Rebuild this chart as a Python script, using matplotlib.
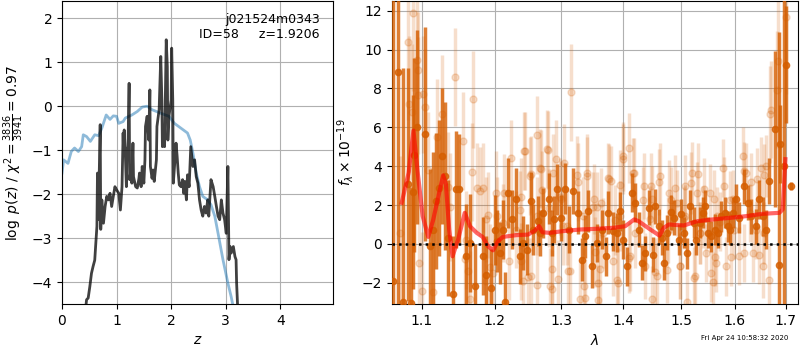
import matplotlib
matplotlib.use("Agg")
import matplotlib.pyplot as plt
from matplotlib.ticker import NullLocator

# left panel: log p(z) and prior
z_grid = [0.40, 0.45, 0.48, 0.51, 0.54, 0.57, 0.60, 0.62, 0.64, 0.65,
          0.67, 0.68, 0.70, 0.71, 0.73, 0.76, 0.79, 0.82, 0.85, 0.88,
          0.91, 0.94, 0.97, 1.00, 1.04, 1.07, 1.10, 1.12, 1.13, 1.14,
          1.16, 1.18, 1.19, 1.21, 1.23, 1.24, 1.27, 1.28, 1.30, 1.31,
          1.35, 1.38, 1.41, 1.42, 1.45, 1.47, 1.50, 1.52, 1.53, 1.56,
          1.59, 1.61, 1.62, 1.65, 1.67, 1.69, 1.73, 1.74, 1.78, 1.81,
          1.83, 1.84, 1.86, 1.88, 1.91, 1.93, 1.94, 1.96, 2.00, 2.01,
          2.03, 2.04, 2.07, 2.09, 2.11, 2.13, 2.15, 2.18, 2.21, 2.23,
          2.25, 2.28, 2.30, 2.33, 2.36, 2.40, 2.43, 2.46, 2.49, 2.52,
          2.55, 2.58, 2.61, 2.64, 2.67, 2.69, 2.73, 2.77, 2.80, 2.83,
          2.86, 2.89, 2.92, 2.95, 2.98, 3.01, 3.04, 3.06, 3.08, 3.10,
          3.14, 3.17, 3.19, 3.20, 3.22]
log_pz = [-5.0, -4.4, -4.36, -4.1, -3.8, -3.64, -3.5, -3.11, -2.73, -1.52,
          -2.58, -1.67, -0.42, -2.8, -2.13, -2.66, -2.28, -2.05, -2.13, -1.98,
          -2.28, -2.05, -1.83, -1.9, -1.98, -2.36, -1.83, -0.61, -1.07, -0.54,
          -1.07, -1.83, -0.99, -0.92, 0.52, -1.67, -1.37, -1.75, -0.84, -1.6,
          -1.83, -1.86, -1.64, -1.52, -1.83, -1.37, -1.75, -1.22, -0.46, -0.23,
          -0.77, 0.37, -1.37, -1.64, -1.45, -1.71, -1.22, -0.46, -0.08, 1.13,
          0.14, -0.92, -0.77, -0.92, 1.51, 0.9, -0.77, -0.23, 0.14, 1.32,
          0.14, -1.75, -1.22, -0.84, -1.14, -1.52, -1.79, -1.83, -1.67, -1.98,
          -1.71, -2.13, -1.56, -1.83, -0.92, -1.37, -1.22, -1.6, -1.75, -2.13,
          -2.36, -2.5, -2.28, -2.43, -2.13, -2.5, -1.67, -1.83, -2.05, -2.28,
          -2.5, -2.58, -2.13, -2.43, -2.58, -2.89, -1.37, -3.49, -3.19, -3.34,
          -3.19, -3.42, -3.49, -4.02, -4.6]

z_prior = [0.0, 0.03, 0.11, 0.17, 0.23, 0.30, 0.36, 0.39, 0.45, 0.52,
           0.60, 0.67, 0.73, 0.81, 0.88, 0.94, 1.00, 1.04, 1.12, 1.16,
           1.28, 1.38, 1.47, 1.56, 1.65, 1.81, 1.96, 2.06, 2.18, 2.30,
           2.35, 2.40, 2.46, 2.52, 2.58, 2.67, 2.73, 2.80, 2.86, 2.95,
           3.04, 3.10, 3.16]
log_prior = [-1.52, -1.22, -1.3, -1.03, -0.95, -1.03, -0.92, -0.65, -0.69, -0.8,
             -0.65, -0.67, -0.5, -0.2, -0.3, -0.22, -0.23, -0.39, -0.35, -0.27,
             -0.2, -0.12, -0.02, 0.0, -0.08, -0.16, -0.23, -0.39, -0.5, -0.61,
             -0.77, -1.07, -1.52, -1.83, -2.05, -2.13, -2.24, -2.5, -2.89, -3.49,
             -4.02, -4.33, -4.7]

# right panel: binned spectrum (dark points)
wave_bin = [1.0625, 1.0692, 1.0748, 1.0812, 1.0854, 1.0883, 1.0900, 1.0938, 1.1040, 1.1106,
            1.1150, 1.1186, 1.1225, 1.1270, 1.1306, 1.1350, 1.1418, 1.1463, 1.1499, 1.1600,
            1.1651, 1.1721, 1.1836, 1.1883, 1.1953, 1.2001, 1.2040, 1.2081, 1.2118, 1.2152,
            1.2190, 1.2253, 1.2311, 1.2368, 1.2417, 1.2467, 1.2531, 1.2566, 1.2641, 1.2667,
            1.2717, 1.2804, 1.2846, 1.2886, 1.2923, 1.2986, 1.3053, 1.3121, 1.3184, 1.3264,
            1.3318, 1.3371, 1.3425, 1.3480, 1.3561, 1.3643, 1.3709, 1.3752, 1.3835, 1.3891,
            1.3938, 1.4000, 1.4057, 1.4143, 1.4200, 1.4257, 1.4316, 1.4373, 1.4431, 1.4507,
            1.4548, 1.4606, 1.4666, 1.4694, 1.4755, 1.4826, 1.4872, 1.4962, 1.4992, 1.5052,
            1.5113, 1.5161, 1.5234, 1.5275, 1.5337, 1.5398, 1.5430, 1.5491, 1.5554, 1.5615,
            1.5677, 1.5740, 1.5803, 1.5866, 1.5898, 1.5961, 1.6026, 1.6088, 1.6185, 1.6250,
            1.6316, 1.6414, 1.6477, 1.6543, 1.6610, 1.6676, 1.6796, 1.6862, 1.6890, 1.6960,
            1.7012, 1.7114]
flux_bin = [-1.9, 8.84, -2.97, 3.07, -3.05, 2.67, 4.57, 6.03, 5.66, -0.12,
            0.74, 2.2, 2.86, 4.53, 3.5, 0.31, -2.6, 2.81, 2.84, -0.64,
            0.05, -2.19, -0.64, -1.59, -2.28, 0.74, 0.14, -0.47, 0.74, -2.97,
            2.64, 1.26, 2.29, -0.64, 0.05, -0.29, 2.2, 0.74, 1.17, 0.57,
            1.6, 2.33, 0.57, 1.26, 2.81, 1.34, 2.84, 0.74, 2.72, 1.6,
            -0.81, 0.4, 1.69, -1.16, 0.05, 0.74, -0.64, 1.6, 0.65, 0.57,
            1.69, 0.22, -1.16, 2.64, 2.12, 0.74, -0.98, -0.47, 1.86, -0.55,
            1.95, 0.91, 0.31, -0.98, 0.57, 1.64, 1.34, 0.22, 1.52, 0.57,
            -0.47, 1.95, 1.09, 0.22, 1.09, 1.6, 1.95, 0.57, 0.4, 0.74,
            0.57, 1.43, 1.6, 0.91, 0.74, 1.6, 2.29, 1.34, 2.98, 2.12,
            1.43, 0.91, 2.29, 1.43, 0.74, 3.24, 5.91, -1.07, 5.14, 4.0,
            9.22, 2.98]
err_bin = [20, 15, 12, 6, 6, 5, 5, 5, 5.5, 4,
           4, 3.5, 3.5, 3.5, 3.8, 3, 3, 3, 2.8, 2.7,
           2.5, 2.2, 2.0, 2.0, 2.0, 1.8, 1.6, 1.6, 1.5, 1.5,
           1.8, 1.5, 1.6, 1.4, 1.4, 1.3, 1.5, 1.3, 1.3, 1.2,
           1.3, 1.3, 1.2, 1.2, 1.3, 1.2, 1.3, 1.2, 1.2, 1.1,
           1.1, 1.1, 1.1, 1.1, 1.0, 1.0, 1.0, 1.1, 1.0, 1.0,
           1.0, 1.0, 1.0, 1.0, 1.0, 0.9, 0.9, 0.9, 0.9, 0.9,
           0.9, 0.9, 0.9, 0.9, 0.9, 0.9, 0.9, 0.8, 0.8, 0.8,
           0.8, 0.8, 0.8, 0.8, 0.8, 0.8, 0.8, 0.8, 0.8, 0.8,
           0.8, 0.8, 0.8, 0.8, 0.8, 0.8, 0.8, 0.8, 0.9, 0.9,
           0.9, 0.9, 1.0, 1.0, 1.0, 1.2, 4.0, 12, 2.0, 15,
           3.0, 0.2]

# right panel: unbinned spectrum (light points)
wave_raw = [1.0714, 1.0817, 1.0830, 1.0865, 1.0888, 1.0928, 1.0944, 1.0953, 1.0960, 1.0996,
            1.1017, 1.1040, 1.1083, 1.1150, 1.1195, 1.1262, 1.1350, 1.1375, 1.1443, 1.1555,
            1.1578, 1.1600, 1.1625, 1.1651, 1.1674, 1.1697, 1.1745, 1.1791, 1.1836, 1.1870,
            1.1883, 1.1905, 1.1928, 1.1979, 1.2026, 1.2040, 1.2118, 1.2130, 1.2213, 1.2239,
            1.2311, 1.2368, 1.2380, 1.2392, 1.2417, 1.2432, 1.2440, 1.2490, 1.2519, 1.2530,
            1.2540, 1.2617, 1.2625, 1.2627, 1.2667, 1.2680, 1.2700, 1.2769, 1.2794, 1.2810,
            1.2820, 1.2846, 1.2860, 1.2871, 1.2912, 1.2948, 1.2974, 1.2990, 1.3027, 1.3040,
            1.3080, 1.3100, 1.3133, 1.3155, 1.3240, 1.3266, 1.3288, 1.3345, 1.3360, 1.3371,
            1.3398, 1.3407, 1.3507, 1.3520, 1.3530, 1.3561, 1.3575, 1.3580, 1.3609, 1.3625,
            1.3659, 1.3752, 1.3768, 1.3791, 1.3835, 1.3862, 1.3891, 1.3910, 1.3938, 1.3950,
            1.3988, 1.4000, 1.4090, 1.4100, 1.4115, 1.4157, 1.4171, 1.4200, 1.4333, 1.4345,
            1.4360, 1.4460, 1.4472, 1.4480, 1.4490, 1.4548, 1.4577, 1.4606, 1.4620, 1.4755,
            1.4765, 1.4780, 1.4826, 1.4899, 1.4935, 1.4975, 1.4990, 1.5052, 1.5065, 1.5080,
            1.5113, 1.5175, 1.5190, 1.5234, 1.5250, 1.5296, 1.5316, 1.5337, 1.5350, 1.5398,
            1.5410, 1.5461, 1.5523, 1.5540, 1.5584, 1.5600, 1.5615, 1.5646, 1.5660, 1.5708,
            1.5772, 1.5790, 1.5835, 1.5898, 1.5930, 1.5961, 1.5975, 1.6088, 1.6153, 1.6170,
            1.6185, 1.6218, 1.6283, 1.6316, 1.6347, 1.6414, 1.6430, 1.6477, 1.6510, 1.6543,
            1.6560, 1.6577, 1.6610, 1.6676, 1.6697, 1.6710, 1.6827, 1.6849, 1.7000]
flux_raw = [0.55, 10.4, 7.2, 6.8, 11.86, 9.45, 8.93, 7.64, -1.0, -2.4,
            7.7, 7.03, 3.8, -2.5, 5.5, 6.7, 2.95, 1.9, 8.59, 5.3,
            -0.8, 0.2, -1.4, -2.85, 3.7, 7.44, 2.9, 2.7, 2.9, -1.9,
            1.26, 1.5, -1.2, -1.5, 2.6, 1.43, 1.06, 2.64, -0.9, 4.4,
            0.74, 1.75, -0.9, 2.44, -1.9, 4.8, 4.79, -1.7, 3.5, -1.67,
            3.58, -2.1, 1.43, 5.6, 3.9, 3.84, 2.78, 4.88, 4.84, 1.84,
            -2.19, -1.3, -2.3, 3.67, 4.37, -1.8, 2.44, 2.29, 0.91, 4.19,
            0.9, -1.4, -1.41, 7.8, 3.55, 3.2, -2.85, 1.43, -2.19, -2.8,
            3.67, 3.5, 1.9, 2.29, -0.4, 1.92, -2.0, -2.9, -1.3, 2.12,
            0.57, 3.38, 3.34, 3.24, -0.9, 1.23, -1.84, -2.0, 3.05, 1.43,
            4.5, 4.36, -0.74, 4.96, -0.64, 3.67, 3.67, 0.57, 2.26, 2.98,
            -1.16, 1.26, 2.98, 2.29, -2.85, -1.42, -1.67, 3.2, 3.5, -1.34,
            0.74, 2.64, 2.26, 2.9, 2.12, -1.13, -1.16, 1.32, 2.98, 1.43,
            -2.97, 3.12, 3.67, -1.77, -1.67, 2.64, 3.6, 0.55, 0.57, 1.4,
            2.81, -0.47, 2.6, -1.5, -1.94, 2.29, -0.65, -0.98, 1.43, 1.15,
            3.9, 2.98, -1.16, 2.27, -0.65, 2.29, 0.74, -0.64, 4.5, 3.73,
            -0.48, 3.67, 1.6, 3.2, -0.47, 0.72, 3.33, -0.57, 3.9, -1.16,
            0.57, 3.56, 4.02, -1.84, 6.68, 6.9, 7.94, 9.4, 11.7]
err_raw = [4, 4, 3.5, 3.5, 4, 3.5, 3, 3, 3, 3,
           3, 3, 3, 3, 3, 3, 2.8, 2.8, 2.5, 2.5,
           2.5, 2.5, 2.5, 2.5, 2.5, 2.5, 2.3, 2.3, 2.3, 2.2,
           2.2, 2.2, 2.2, 2.2, 2.2, 2.0, 2.0, 2.0, 2.0, 2.0,
           2.0, 2.0, 2.0, 2.0, 2.0, 2.0, 2.0, 2.0, 2.0, 2.0,
           2.0, 2.0, 2.0, 2.0, 2.0, 2.0, 2.0, 2.0, 2.0, 2.0,
           2.0, 2.0, 2.0, 2.0, 2.0, 2.0, 2.0, 2.0, 2.0, 2.0,
           2.0, 2.0, 2.0, 2.5, 2.0, 2.0, 2.0, 2.0, 2.0, 2.0,
           2.0, 2.0, 1.8, 1.8, 1.8, 1.8, 1.8, 1.8, 1.8, 1.8,
           1.8, 1.8, 1.8, 1.8, 1.8, 1.8, 1.8, 1.8, 1.8, 1.8,
           1.8, 1.8, 1.8, 1.8, 1.8, 1.8, 1.8, 1.8, 1.7, 1.7,
           1.7, 1.7, 1.7, 1.7, 1.7, 1.7, 1.7, 1.7, 1.7, 1.7,
           1.7, 1.7, 1.7, 1.7, 1.7, 1.7, 1.7, 1.6, 1.6, 1.6,
           1.6, 1.6, 1.6, 1.6, 1.6, 1.6, 1.6, 1.6, 1.6, 1.6,
           1.6, 1.5, 1.5, 1.5, 1.5, 1.5, 1.5, 1.5, 1.5, 1.5,
           1.5, 1.5, 1.5, 1.5, 1.5, 1.5, 1.5, 1.5, 1.5, 1.5,
           1.5, 1.5, 1.5, 1.5, 1.5, 1.5, 1.6, 1.5, 1.6, 1.6,
           1.6, 1.6, 1.6, 1.8, 2.5, 2.5, 3, 3.5, 4]

# right panel: best-fit model
wave_model = [1.0736, 1.0826, 1.0888, 1.0944, 1.1009, 1.1083, 1.1150, 1.1229, 1.1283, 1.1320,
              1.1364, 1.1410, 1.1486, 1.1578, 1.1651, 1.1745, 1.1828, 1.1905, 1.1976, 1.2047,
              1.2118, 1.2311, 1.2490, 1.2592, 1.2656, 1.2708, 1.2820, 1.3027, 1.3288, 1.3561,
              1.3835, 1.4029, 1.4183, 1.4257, 1.4460, 1.4618, 1.4694, 1.4783, 1.5052, 1.5296,
              1.5584, 1.5898, 1.6218, 1.6543, 1.6876, 1.6943, 1.6998]
flux_model = [2.12, 3.67, 5.83, 3.67, 1.43, 0.36, 1.26, 2.64, 3.53, 3.07,
              0.74, -0.64, 0.22, 1.6, 0.91, 0.57, 0.36, -0.12, -0.33, 0.14,
              0.36, 0.45, 0.48, 0.69, 0.91, 0.6, 0.57, 0.66, 0.74, 0.78,
              0.83, 0.91, 1.26, 1.17, 0.74, 0.43, 0.83, 1.0, 0.95, 1.17,
              1.26, 1.34, 1.43, 1.55, 1.6, 1.78, 4.36]

wave_ticks = [1.1, 1.2, 1.3, 1.4, 1.5, 1.6, 1.7]
wave_labels = ['1.1', '1.2', '1.3', '1.4', '1.5', '1.6', '1.7']

g141 = '#d55e00'

fig = plt.figure(figsize=(8, 3.5), dpi=100)

ax = fig.add_axes([0.0775, 0.131, 0.339, 0.866])
ax.plot(z_prior, log_prior, color='tab:blue', alpha=0.5, lw=2)
ax.plot(z_grid, log_pz, color='k', alpha=0.75, lw=2)
ax.set_xlim(0, 4.97)
ax.set_ylim(-4.5, 2.39)
ax.set_xticks([0, 1, 2, 3, 4])
ax.grid()
ax.set_xlabel('$z$')
ax.set_ylabel(r'$\log\ p(z)$ / $\chi^2=\frac{3836}{3941}=0.97$')
ax.text(0.95, 0.96, 'j021524m0343\nID=58     z=1.9206',
        transform=ax.transAxes, ha='right', va='top', fontsize=9)

ax = fig.add_axes([0.49, 0.131, 0.5075, 0.866])
ax.errorbar(wave_raw, flux_raw, yerr=err_raw, marker='o', linestyle='None',
            color=g141, alpha=0.2, ms=5, elinewidth=2.5, capsize=0, zorder=2)
ax.errorbar(wave_bin, flux_bin, yerr=err_bin, marker='o', linestyle='None',
            color=g141, alpha=0.8, ms=4.5, elinewidth=2.5, capsize=0, zorder=3)
ax.plot(wave_model, flux_model, color='r', alpha=0.6, lw=3, zorder=4)
ax.axhline(0, color='k', linestyle=':', lw=1.8, zorder=5)
ax.set_xscale('log')
ax.set_xlim(1.0612, 1.7256)
ax.set_ylim(-3.1, 12.5)
ax.set_xticks(wave_ticks)
ax.set_xticklabels(wave_labels)
ax.xaxis.set_minor_locator(NullLocator())
ax.grid()
ax.set_xlabel(r'$\lambda$')
ax.set_ylabel(r'$f_\lambda\times10^{-19}$')

fig.text(0.985, 0.025, 'Fri Apr 24 10:58:32 2020', ha='right', va='bottom', fontsize=5)

fig.savefig('out.png', dpi=100)
